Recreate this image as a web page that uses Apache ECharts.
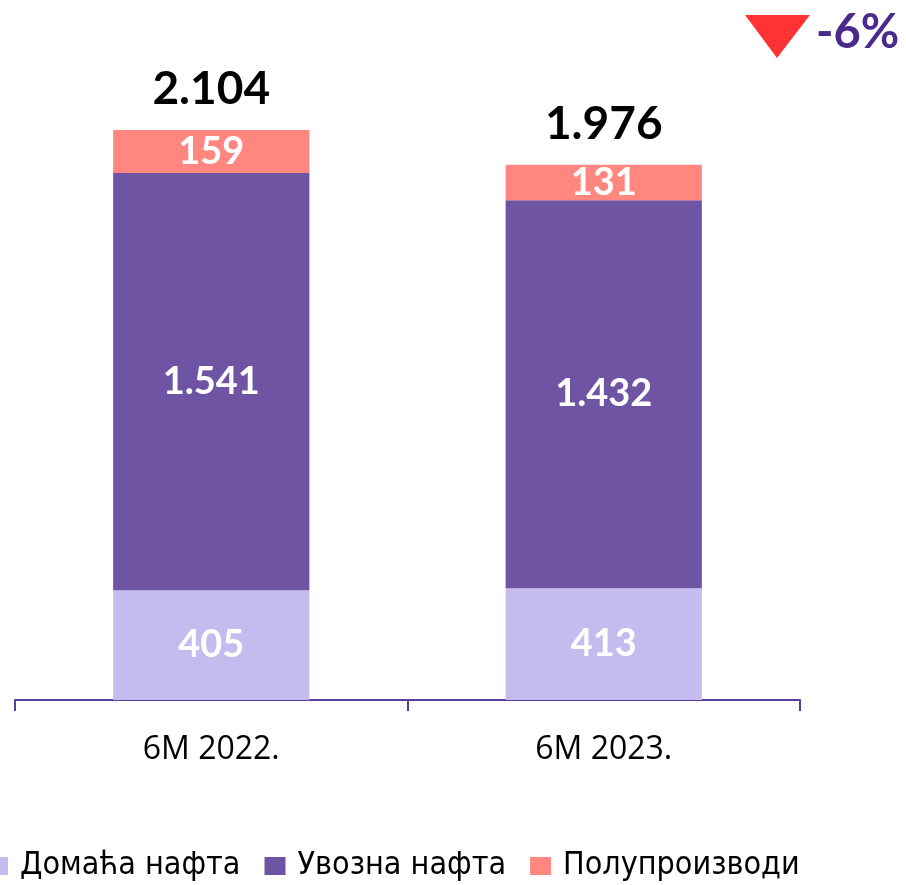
<!DOCTYPE html>
<html><head><meta charset="utf-8">
<script src="https://cdn.jsdelivr.net/npm/echarts@6/dist/echarts.min.js"></script>
<style>html,body{margin:0;padding:0;background:#fff}#c{width:906px;height:885px}</style>
</head><body><div id="c"></div>
<script>
const categories = ['6M 2022.', '6M 2023.'];
const domestic = [405, 413];
const imported = [1541, 1432];
const semi = [159, 131];
const totals = [2104, 1976];
const seriesNames = ['Домаћа нафта', 'Увозна нафта', 'Полупроизводи'];
const changeText = '-6%';

const fmt = v => String(v).replace(/\B(?=(\d{3})+(?!\d))/g, '.');
const font = 'Lato, "Open Sans", sans-serif';
const inLabel = {show: true, position: 'inside', color: '#fff', fontWeight: 'bold', fontSize: 38, fontFamily: font, formatter: p => fmt(p.value)};

const chart = echarts.init(document.getElementById('c'));
chart.setOption({
  animation: false,
  grid: {left: 15, right: 106, top: 50, bottom: 185},
  legend: {
    data: seriesNames, bottom: 3, left: -13, itemWidth: 21, itemHeight: 18, itemGap: 24,
    icon: 'rect', padding: 0,
    textStyle: {fontSize: 32, color: '#000', padding: [0, 0, 0, 7], fontFamily: '"Liberation Sans Narrow", "DejaVu Sans Condensed", sans-serif'}
  },
  xAxis: {
    type: 'category', data: categories,
    axisLine: {show: true, lineStyle: {color: '#5b3fa0', width: 2}},
    axisTick: {show: true, length: 11, lineStyle: {color: '#5b3fa0', width: 2}},
    axisLabel: {fontSize: 32, color: '#000', margin: 34, fontFamily: '"Open Sans", sans-serif'}
  },
  yAxis: {type: 'value', min: 0, max: 2400, show: false, splitLine: {show: false}},
  series: [
    {name: seriesNames[0], type: 'bar', stack: 's', barWidth: '50%', data: domestic, itemStyle: {color: '#c5bbee'}, label: inLabel},
    {name: seriesNames[1], type: 'bar', stack: 's', data: imported, itemStyle: {color: '#6f54a3'}, label: inLabel},
    {name: seriesNames[2], type: 'bar', stack: 's', data: semi, itemStyle: {color: '#ff8780'}, label: inLabel},
    {name: 'total', type: 'bar', stack: 's', data: totals.map(() => 0), itemStyle: {color: 'transparent'},
     label: {show: true, position: 'top', distance: 18, color: '#000', fontWeight: 'bold', fontSize: 46, fontFamily: font,
       formatter: p => fmt(totals[p.dataIndex])}}
  ],
  graphic: [
    {type: 'polygon', shape: {points: [[745, 15], [810, 15], [777, 58]]}, style: {fill: '#ff3333'}},
    {type: 'text', left: 816, top: 9, style: {text: changeText, fill: '#4b2a8c', font: 'bold 47px ' + font}}
  ]
});
</script></body></html>
